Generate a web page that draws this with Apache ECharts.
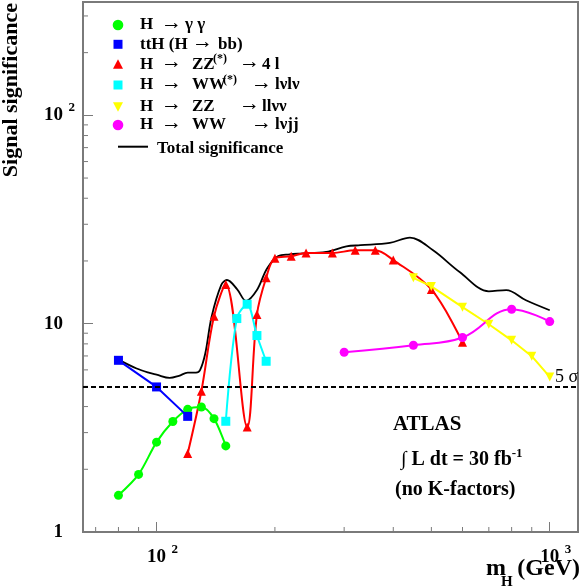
<!DOCTYPE html>
<html lang="en">
<head>
<meta charset="UTF-8" />
<title>Signal significance</title>
<script src="https://cdn.jsdelivr.net/npm/echarts/dist/echarts.min.js"></script>
<style>
  html, body { margin: 0; padding: 0; background: #fff; }
  #main { width: 581px; height: 588px; }
</style>
</head>
<body>
<div id="main"></div>
<script>
// H -> gamma gamma
var mGG = [80, 90, 100, 110, 120, 130, 140, 150];
var sGG = [1.50, 1.89, 2.70, 3.39, 3.88, 3.98, 3.50, 2.59];
// ttH (H -> bb)
var mTTH = [80, 100, 120];
var sTTH = [6.67, 4.97, 3.59];
// H -> ZZ(*) -> 4l
var mZZ4l = [120, 130, 140, 150, 170, 180, 190, 200, 220, 240, 280, 320, 360, 400, 500, 600];
var sZZ4l = [2.38, 4.74, 10.85, 15.4, 3.19, 11.06, 16.6, 20.6, 21.07, 21.85, 21.85, 22.5, 22.5, 20.2, 14.6, 8.14];
// H -> WW(*) -> lvlv
var mWW = [150, 160, 170, 180, 190];
var sWW = [3.40, 10.58, 12.4, 8.77, 6.60];
// H -> ZZ -> llvv
var mZZnn = [450, 500, 600, 700, 800, 900, 1000];
var sZZnn = [16.6, 15.1, 12.0, 9.94, 8.32, 6.98, 5.55];
// H -> WW -> lvjj
var mWWjj = [300, 450, 600, 800, 1000];
var sWWjj = [7.29, 7.88, 8.58, 11.73, 10.23];
// total significance
var mTotal = [80, 89, 96, 100, 108, 114, 120, 126, 129, 133, 138, 146, 151, 160, 169, 180, 191, 204, 218, 232, 270, 304, 330, 392, 441, 505, 590, 700, 775, 870, 1000];
var sTotal = [6.72, 6.09, 5.80, 5.69, 5.49, 5.62, 5.82, 5.82, 5.98, 7.19, 10.77, 15.3, 16.2, 14.7, 12.85, 14.5, 18.4, 21.1, 21.5, 21.7, 22.1, 23.5, 23.8, 24.4, 25.9, 22.5, 17.7, 14.3, 14.5, 12.95, 11.6];
var fiveSigma = 5;

// axis ranges and small ticks
var xMin = 65, xMax = 1180, yMin = 1, yMax = 350;
var xMinor = [70, 80, 90, 200, 300, 400, 500, 600, 700, 800, 900];
var yMinor = [2, 3, 4, 5, 6, 7, 8, 9, 20, 30, 40, 50, 60, 70, 80, 90, 200, 300];

var axisColor = '#7a7a7a';
var serif = '"Liberation Serif", "DejaVu Serif", serif';

function zip(xs, ys) {
  return xs.map(function (x, i) { return [x, ys[i]]; });
}

function isPow10(v) {
  var e = Math.log10(v);
  return Math.abs(e - Math.round(e)) < 1e-6;
}

var richLab = {
  b: { fontFamily: serif, fontSize: 19, fontWeight: 'bold', color: '#000', lineHeight: 28 },
  s: { fontFamily: serif, fontSize: 13, fontWeight: 'bold', color: '#000', lineHeight: 14, verticalAlign: 'top', width: 12, align: 'right' },
  sp: { width: 12, lineHeight: 14 }
};

function lineSeries(name, xs, ys, color, symbol, size, smooth) {
  return {
    name: name, type: 'line', data: zip(xs, ys),
    smooth: smooth, symbol: symbol, symbolSize: size,
    itemStyle: { color: color, borderWidth: 0 },
    lineStyle: { color: color, width: 2 },
    z: 3
  };
}

function tickSeries(data, horizontal) {
  return {
    type: 'custom', silent: true, data: data, z: 4,
    renderItem: function (params, api) {
      var p = api.coord([api.value(0), api.value(1)]);
      return {
        type: 'line',
        shape: horizontal ? { x1: p[0], y1: p[1], x2: p[0] + 5, y2: p[1] }
                          : { x1: p[0], y1: p[1], x2: p[0], y2: p[1] - 5 },
        style: { stroke: axisColor, lineWidth: 1 }
      };
    }
  };
}

// legend, drawn by hand to follow the original layout
function txt(x, y, s, size, weight, extra) {
  var el = {
    type: 'text', x: x, y: y, z: 10,
    style: { text: s, fontFamily: serif, fontSize: size || 17, fontWeight: weight || 'bold', fill: '#000', align: 'left', verticalAlign: 'middle' }
  };
  if (extra) for (var k in extra) el.style[k] = extra[k];
  return el;
}
function arrow(x, y) { return txt(x - 1, y - 2, '→', 21, 'normal'); }
function dot(x, y, c) { return { type: 'circle', z: 10, shape: { cx: x, cy: y, r: 5.3 }, style: { fill: c } }; }
function box(x, y, c) { return { type: 'rect', z: 10, shape: { x: x - 4.5, y: y - 4.5, width: 9, height: 9 }, style: { fill: c } }; }
function triUp(x, y, c) { return { type: 'polygon', z: 10, shape: { points: [[x - 5, y + 4.5], [x + 5, y + 4.5], [x, y - 5]] }, style: { fill: c } }; }
function triDown(x, y, c) { return { type: 'polygon', z: 10, shape: { points: [[x - 5, y - 4.5], [x + 5, y - 4.5], [x, y + 5]] }, style: { fill: c } }; }

var g = [];
var mx = 118;
g.push(dot(mx, 25, '#00ff00'), txt(140, 25, 'H'), arrow(162, 25), txt(185, 25, 'γ γ'));
g.push(box(mx, 44.3, '#0000ff'), txt(140, 44.3, 'ttH (H'), arrow(193, 44.3), txt(218, 44.3, 'bb)'));
g.push(triUp(mx, 64.3, '#ff0000'), txt(140, 64.3, 'H'), arrow(162, 64.3), txt(192, 64.3, 'ZZ'), txt(213, 58.5, '(*)', 12), arrow(240, 64.3), txt(262, 64.3, '4 l'));
g.push(box(mx, 85, '#00ffff'), txt(140, 85, 'H'), arrow(162, 85), txt(192, 85, 'WW'), txt(223, 79.5, '(*)', 12), arrow(252, 85), txt(275, 85, 'lνlν'));
g.push(triDown(mx, 106.7, '#ffff00'), txt(140, 106.7, 'H'), arrow(162, 106.7), txt(192, 106.7, 'ZZ'), arrow(240, 106.7), txt(262, 106.7, 'llνν'));
g.push(dot(mx, 125, '#ff00ff'), txt(140, 125, 'H'), arrow(162, 125), txt(192, 125, 'WW'), arrow(252, 125), txt(275, 125, 'lνjj'));
g.push({ type: 'line', z: 10, shape: { x1: 118, y1: 146.7, x2: 148, y2: 146.7 }, style: { stroke: '#000', lineWidth: 2 } }, txt(157, 148.3, 'Total significance'));

// annotations
g.push(txt(393, 425, 'ATLAS', 21));
g.push(txt(401, 460, '{n|∫ L dt = 30 fb}{s|-1}', 20, 'bold', {
  rich: {
    n: { fontFamily: serif, fontSize: 20, fontWeight: 'bold', lineHeight: 26 },
    s: { fontFamily: serif, fontSize: 13, fontWeight: 'bold', lineHeight: 14, verticalAlign: 'top' }
  }
}));
g.push(txt(395, 490, '(no K-factors)', 20));
g.push(txt(555, 377, '5 σ', 18, 'normal'));

// axis titles
g.push(txt(486, 569, 'm', 24), txt(501, 582, 'H', 15), txt(580, 569, '(GeV)', 24, 'bold', { align: 'right' }));
g.push({
  type: 'text', x: 11, y: 3, rotation: Math.PI / 2, z: 10,
  style: { text: 'Signal significance', fontFamily: serif, fontSize: 22, fontWeight: 'bold', fill: '#000', align: 'right', verticalAlign: 'middle' }
});

var chart = echarts.init(document.getElementById('main'));
chart.setOption({
  animation: false,
  backgroundColor: '#fff',
  grid: { left: 83, right: 3, top: 2, bottom: 56, show: true, borderColor: axisColor, borderWidth: 2, backgroundColor: 'transparent' },
  xAxis: {
    type: 'log', logBase: 10, min: xMin, max: xMax,
    splitLine: { show: false },
    axisLine: { show: false },
    axisTick: { show: true, inside: true, length: 10, lineStyle: { color: axisColor, width: 1 } },
    axisLabel: {
      margin: 11, rich: richLab,
      formatter: function (v) {
        if (!isPow10(v)) return '';
        return '{sp|}{b|10}{s|' + Math.round(Math.log10(v)) + '}';
      }
    }
  },
  yAxis: {
    type: 'log', logBase: 10, min: yMin, max: yMax,
    splitLine: { show: false },
    axisLine: { show: false },
    axisTick: { show: true, inside: true, length: 10, lineStyle: { color: axisColor, width: 1 } },
    axisLabel: {
      margin: 8, rich: richLab,
      formatter: function (v) {
        if (!isPow10(v)) return '';
        var e = Math.round(Math.log10(v));
        if (e === 0) return '{b|1}{sp|}';
        if (e === 1) return '{b|10}{sp|}';
        return '{b|10}{s|' + e + '}';
      }
    }
  },
  series: [
    {
      name: 'Total significance', type: 'line', data: zip(mTotal, sTotal),
      smooth: 0.35, symbol: 'none', lineStyle: { color: '#000', width: 1.8 }, z: 2,
      markLine: {
        silent: true, symbol: 'none', label: { show: false },
        lineStyle: { color: '#000', width: 2, type: [5, 3] },
        data: [{ yAxis: fiveSigma }]
      }
    },
    lineSeries('H → γγ', mGG, sGG, '#00ff00', 'circle', 9, 0.3),
    lineSeries('ttH (H → bb)', mTTH, sTTH, '#0000ff', 'rect', 9, false),
    lineSeries('H → ZZ(*) → 4l', mZZ4l, sZZ4l, '#ff0000', 'triangle', 9, 0.35),
    lineSeries('H → WW(*) → lνlν', mWW, sWW, '#00ffff', 'rect', 9, 0.3),
    lineSeries('H → ZZ → llνν', mZZnn, sZZnn, '#ffff00', 'path://M0,0L10,0L5,9Z', 9, false),
    lineSeries('H → WW → lνjj', mWWjj, sWWjj, '#ff00ff', 'circle', 9, 0.4),
    tickSeries(xMinor.map(function (v) { return [v, yMin]; }), false),
    tickSeries(yMinor.map(function (v) { return [xMin, v]; }), true)
  ],
  graphic: g
});
</script>
</body>
</html>
